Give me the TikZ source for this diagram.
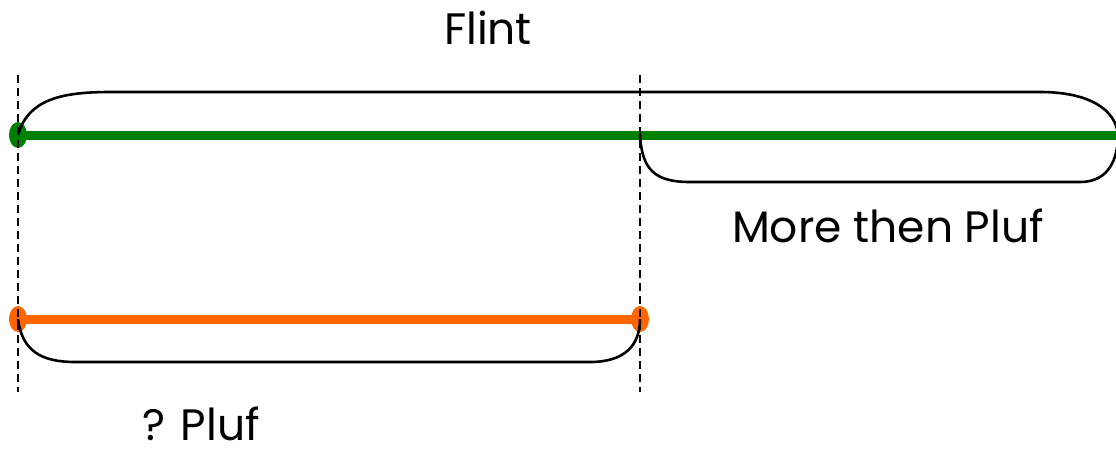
\documentclass[tikz,border=0pt]{standalone}
\usepackage{fontspec}
\setmainfont{Poppins}
\usetikzlibrary{shapes.geometric}
\usepackage{xcolor}

\definecolor{lineGreen}{RGB}{0,128,0}
\definecolor{lineOrange}{RGB}{255,102,0}

\tikzset{
  gdot/.style={ellipse,fill=lineGreen,inner sep=0pt,minimum width=9pt,minimum height=13pt},
  odot/.style={ellipse,fill=lineOrange,inner sep=0pt,minimum width=9pt,minimum height=13pt},
  span/.style={line width=4.5pt},
  bracket/.style={black,line width=1.3pt},
  guide/.style={black,line width=1.3pt,dash pattern=on 4pt off 2.5pt},
  lbl/.style={font=\fontsize{22}{26}\selectfont,inner sep=1pt,anchor=base}
}

\begin{document}
\begin{tikzpicture}[x=0.5pt,y=-0.5pt]
      \useasboundingbox (0,0) rectangle (1116,456);
      \clip (0,0) rectangle (1116,456);

      % Points
      \node[gdot] (gStart) at (18,135) {};
      \coordinate (gEnd) at (1120,135);
      \node[odot] (oStart) at (18,319) {};
      \node[odot] (oEnd) at (640,319) {};
      \coordinate (gMid) at (640,135);

      % Lines
      \draw[span, lineGreen] (gStart.center) -- (gEnd);
      \draw[span, lineOrange] (oStart.center) -- (oEnd.center);

      % Brackets
      \draw[bracket] (gStart.center) .. controls (28,100) and (60,92) .. (110,92)
        -- (1040,92) .. controls (1090,92) and (1116,110) .. (1118,135);
      \draw[bracket] (gMid) .. controls (642,170) and (655,182) .. (690,182)
        -- (1080,182) .. controls (1105,182) and (1116,165) .. (1118,140);
      \draw[bracket] (oStart.center) .. controls (22,350) and (40,362) .. (75,362)
        -- (590,362) .. controls (625,362) and (640,345) .. (oEnd.center);

      % Guides
      \foreach \x in {18,640}
      {
        \coordinate (T\x) at (\x,75);
        \coordinate (B\x) at (\x,392);
        \draw[guide] (T\x) -- (B\x);
      }

      % Labels
      \node[lbl] (flint) at (488,44) {Flint};
      \node[lbl] (more) at (888,242) {More then Pluf};
      \node[lbl] (pluf) at (201,440) {? Pluf};
\end{tikzpicture}
\end{document}
